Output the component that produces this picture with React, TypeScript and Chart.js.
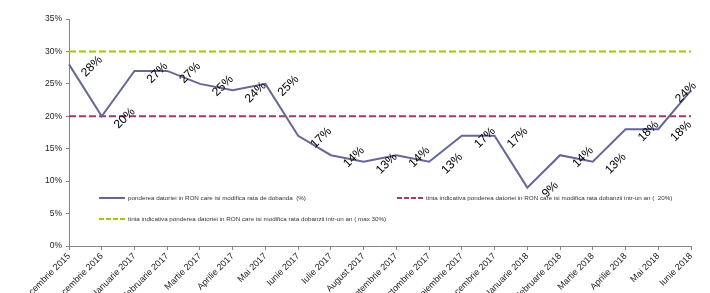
import { useEffect, useRef } from 'react';
import { Chart, registerables } from 'chart.js';

Chart.register(...registerables);

const categories = [
  'Decembrie 2015', 'Decembrie 2016', 'Ianuarie 2017', 'Februarie 2017', 'Martie 2017',
  'Aprilie 2017', 'Mai 2017', 'Iunie 2017', 'Iulie 2017', 'August 2017',
  'Septembrie 2017', 'Octombrie 2017', 'Noiembrie 2017', 'Decembrie 2017', 'Ianuarie 2018',
  'Februarie 2018', 'Martie 2018', 'Aprilie 2018', 'Mai 2018', 'Iunie 2018',
];

const ponderea = [28, 20, 27, 27, 25, 24, 25, 17, 14, 13, 14, 13, 17, 17, 9, 14, 13, 18, 18, 24];
const tinta20 = [20, 20, 20, 20, 20, 20, 20, 20, 20, 20, 20, 20, 20, 20, 20, 20, 20, 20, 20, 20];
const tinta30 = [30, 30, 30, 30, 30, 30, 30, 30, 30, 30, 30, 30, 30, 30, 30, 30, 30, 30, 30, 30];

const yMin = 0;
const yMax = 35;
const yStep = 5;

const seriesLabels = [
  'ponderea datoriei in RON care isi modifica rata de dobanda  (%)',
  'tinta indicativa ponderea datoriei in RON care isi modifica rata dobanzii intr-un an (  20%)',
  'tinta indicativa ponderea datoriei in RON care isi modifica rata dobanzii intr-un an ( max 30%)',
];

const FONT = '"Liberation Sans", Arial, sans-serif';
const W = 710;
const H = 320;

const dataLabelPlugin = {
  id: 'dataLabels',
  afterDatasetsDraw(chart: any) {
    const meta = chart.getDatasetMeta(0);
    const ds = chart.data.datasets[0];
    const ctx = chart.ctx;
    const area = chart.chartArea;
    ctx.save();
    ctx.font = `12px ${FONT}`;
    ctx.fillStyle = '#000';
    ctx.textAlign = 'center';
    ctx.textBaseline = 'middle';
    meta.data.forEach((pt: any, i: number) => {
      const x = Math.min(pt.x + 23, area.right - 5);
      const y = pt.y + 2;
      ctx.save();
      ctx.translate(x, y);
      ctx.rotate(-Math.PI / 4);
      ctx.fillText(ds.data[i] + '%', 0, 0);
      ctx.restore();
    });
    ctx.restore();
  },
};

const legendPlugin = {
  id: 'innerLegend',
  afterDraw(chart: any) {
    const a = chart.chartArea;
    const ctx = chart.ctx;
    const items = [
      { ds: 0, dx: 30, dy: 179 },
      { ds: 1, dx: 328, dy: 179 },
      { ds: 2, dx: 30, dy: 200 },
    ];
    ctx.save();
    items.forEach((it) => {
      const d = chart.data.datasets[it.ds];
      const x = a.left + it.dx;
      const y = a.top + it.dy;
      ctx.beginPath();
      ctx.strokeStyle = d.borderColor;
      ctx.lineWidth = 2;
      ctx.setLineDash(d.borderDash && d.borderDash.length ? [5, 2] : []);
      ctx.moveTo(x, y);
      ctx.lineTo(x + 26, y);
      ctx.stroke();
      ctx.setLineDash([]);
      ctx.font = `6.25px ${FONT}`;
      ctx.fillStyle = '#333';
      ctx.textAlign = 'left';
      ctx.textBaseline = 'middle';
      ctx.fillText(d.label, x + 29, y);
    });
    ctx.restore();
  },
};

export default function App() {
  const ref = useRef<HTMLCanvasElement>(null);
  useEffect(() => {
    if (!ref.current) return;
    const chart = new Chart(ref.current, {
      type: 'line',
      data: {
        labels: categories,
        datasets: [
          {
            label: seriesLabels[0],
            data: ponderea,
            borderColor: '#666699',
            backgroundColor: '#666699',
            borderWidth: 2,
            pointRadius: 0,
            tension: 0,
            borderDash: [],
          },
          {
            label: seriesLabels[1],
            data: tinta20,
            borderColor: '#9E3A6E',
            backgroundColor: '#9E3A6E',
            borderWidth: 2,
            borderDash: [7, 3],
            pointRadius: 0,
          },
          {
            label: seriesLabels[2],
            data: tinta30,
            borderColor: '#99CC00',
            backgroundColor: '#99CC00',
            borderWidth: 2,
            borderDash: [7, 3],
            pointRadius: 0,
          },
        ],
      },
      options: {
        animation: false,
        responsive: false,
        devicePixelRatio: 1,
        layout: { padding: { top: 19, right: 19, left: 0, bottom: 0 } },
        plugins: {
          legend: { display: false },
          tooltip: { enabled: false },
        },
        scales: {
          x: {
            type: 'category',
            offset: false,
            afterFit: (s: any) => { s.height = H - 246; },
            grid: { drawOnChartArea: false, tickLength: 4, color: '#868686', tickColor: '#868686' },
            border: { color: '#868686', width: 1 },
            ticks: {
              autoSkip: false,
              minRotation: 45,
              maxRotation: 45,
              padding: 1,
              color: '#222',
              font: { family: FONT, size: 9 },
            },
          },
          y: {
            min: yMin,
            max: yMax,
            afterFit: (s: any) => { s.width = 69; },
            grid: { drawOnChartArea: false, tickLength: 3, color: '#868686', tickColor: '#868686' },
            border: { color: '#868686', width: 1 },
            ticks: {
              stepSize: yStep,
              padding: 4,
              color: '#222',
              font: { family: FONT, size: 8.5 },
              callback: (v: any) => v + '%',
            },
          },
        },
      },
      plugins: [dataLabelPlugin, legendPlugin],
    });
    return () => chart.destroy();
  }, []);
  return (
    <div style={{ position: 'fixed', left: 0, top: 0, width: W, height: 293, overflow: 'hidden', background: '#fff' }}>
      <canvas ref={ref} width={W} height={H} style={{ display: 'block', width: W, height: H }} />
    </div>
  );
}
